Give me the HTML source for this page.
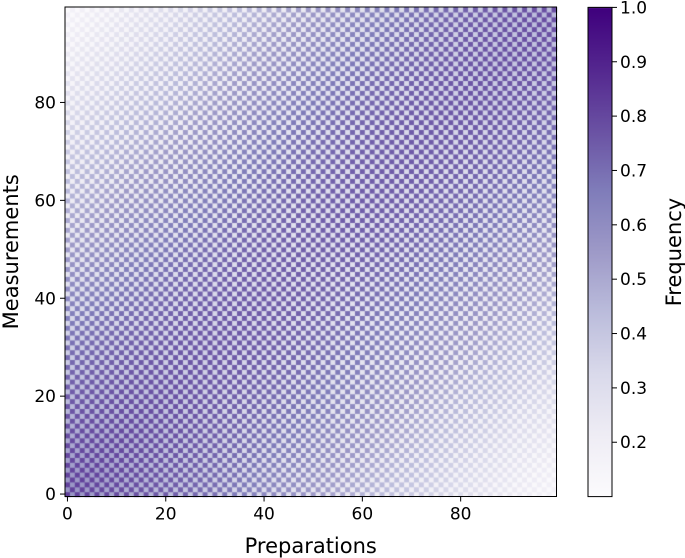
<!DOCTYPE html>
<html><head><meta charset="utf-8"><style>
body{margin:0;background:#fff;width:685px;height:558px;overflow:hidden;font-family:"Liberation Sans","DejaVu Sans",sans-serif}
#c{position:absolute;left:0;top:0}
svg{position:absolute;left:0;top:0}
text{font-family:"DejaVu Sans","Liberation Sans",sans-serif;fill:#000}
</style></head><body>
<canvas id="c" width="685" height="558"></canvas>
<svg id="s" width="685" height="558"></svg>
<script>
// data: value profile by distance from diagonal (every 10 cells), checker amplitude
const profileDist = [0,10,20,30,40,50,60,70,80,90,99];
const profileBase = [0.52,0.51,0.49,0.46,0.42,0.38,0.33,0.28,0.23,0.18,0.14];
const checkerAmp  = [0.22,0.22,0.21,0.20,0.18,0.16,0.13,0.10,0.07,0.05,0.03];
const alongPos    = [0,25,50,75,99];
const alongOffset = [0.18,0.05,0.0,0.03,0.10];
const xTicks = [0,20,40,60,80];
const yTicks = [0,20,40,60,80];
const cbTicks = [0.2,0.3,0.4,0.5,0.6,0.7,0.8,0.9,1.0];
const N = 100, vmin = 0.1, vmax = 1.0;
const X0=65, X1=556.5, Y0=496.5, Y1=7;
const cellW=(X1-X0)/N, cellH=(Y0-Y1)/N;
function interpG(xs,arr,d){for(let k=0;k<xs.length-1;k++){if(d<=xs[k+1]){const t=(d-xs[k])/(xs[k+1]-xs[k]);return arr[k]+(arr[k+1]-arr[k])*t;}}return arr[arr.length-1];}
const cmap=["#fcfbfd","#efedf5","#dadaeb","#bcbddc","#9e9ac8","#807dba","#6a51a3","#54278f","#3f007d"].map(h=>[parseInt(h.substr(1,2),16),parseInt(h.substr(3,2),16),parseInt(h.substr(5,2),16)]);
function col(v){let t=(v-vmin)/(vmax-vmin);t=Math.max(0,Math.min(1,t))*8;const k=Math.min(7,Math.floor(t)),f=t-k;const a=cmap[k],b=cmap[k+1];return `rgb(${a.map((x,i)=>Math.round(x+(b[i]-x)*f)).join(',')})`;}
const ctx=document.getElementById('c').getContext('2d');
for(let i=0;i<N;i++)for(let j=0;j<N;j++){const d=Math.abs(i-j);const s=((i+j)%2===0)?1:-1;const off=interpG(alongPos,alongOffset,(i+j)/2)*(1-d/100);
const amp=interpG(profileDist,checkerAmp,d)*(1-off*2.5);
const v=interpG(profileDist,profileBase,d)+off+s*amp;ctx.fillStyle=col(v);ctx.fillRect(X0+i*cellW,Y0-(j+1)*cellH,cellW+0.6,cellH+0.6);}
// colorbar
const CX=588,CW=24,CT=7.4,CB=496.6;
const g=ctx.createLinearGradient(0,CB,0,CT);for(let k=0;k<=8;k++)g.addColorStop(k/8,`rgb(${cmap[k].join(',')})`);
ctx.fillStyle=g;ctx.fillRect(CX,CT,CW,CB-CT);
const svg=document.getElementById('s');const NS='http://www.w3.org/2000/svg';
function el(t,a,txt){const e=document.createElementNS(NS,t);for(const k in a)e.setAttribute(k,a[k]);if(txt!==undefined)e.textContent=txt;svg.appendChild(e);return e;}
let r=el('rect',{x:X0,y:Y1,width:X1-X0,height:Y0-Y1,fill:'none',stroke:'#000','stroke-width':1});

r=el('rect',{x:CX,y:CT,width:CW,height:CB-CT,fill:'none',stroke:'#000','stroke-width':1});

xTicks.forEach(v=>{const x=X0+(v+0.5)*cellW;let l=el('line',{x1:x,x2:x,y1:Y0,y2:Y0+5,stroke:'#000'});
let t=el('text',{x:x,y:Y0+23,'font-size':17,'text-anchor':'middle'},v);});
yTicks.forEach(v=>{const y=Y0-(v+0.5)*cellH;let l=el('line',{x1:X0-5,x2:X0,y1:y,y2:y,stroke:'#000'});
let t=el('text',{x:X0-9,y:y+6,'font-size':17,'text-anchor':'end'},v);});
cbTicks.forEach(v=>{const y=CB-(v-vmin)/(vmax-vmin)*(CB-CT);let l=el('line',{x1:CX+CW,x2:CX+CW+5,y1:y,y2:y,stroke:'#000'});
let t=el('text',{x:CX+CW+8,y:y+6,'font-size':17},v.toFixed(1));});
let t=el('text',{x:(X0+X1)/2,y:553,'font-size':21,'text-anchor':'middle'},'Preparations');
t=el('text',{x:0,y:0,'font-size':21,'text-anchor':'middle',transform:`translate(18,${(Y0+Y1)/2}) rotate(-90)`},'Measurements');
t=el('text',{x:0,y:0,'font-size':21,'text-anchor':'middle',transform:`translate(681,${(CT+CB)/2}) rotate(-90)`},'Frequency');
</script>
</body></html>
